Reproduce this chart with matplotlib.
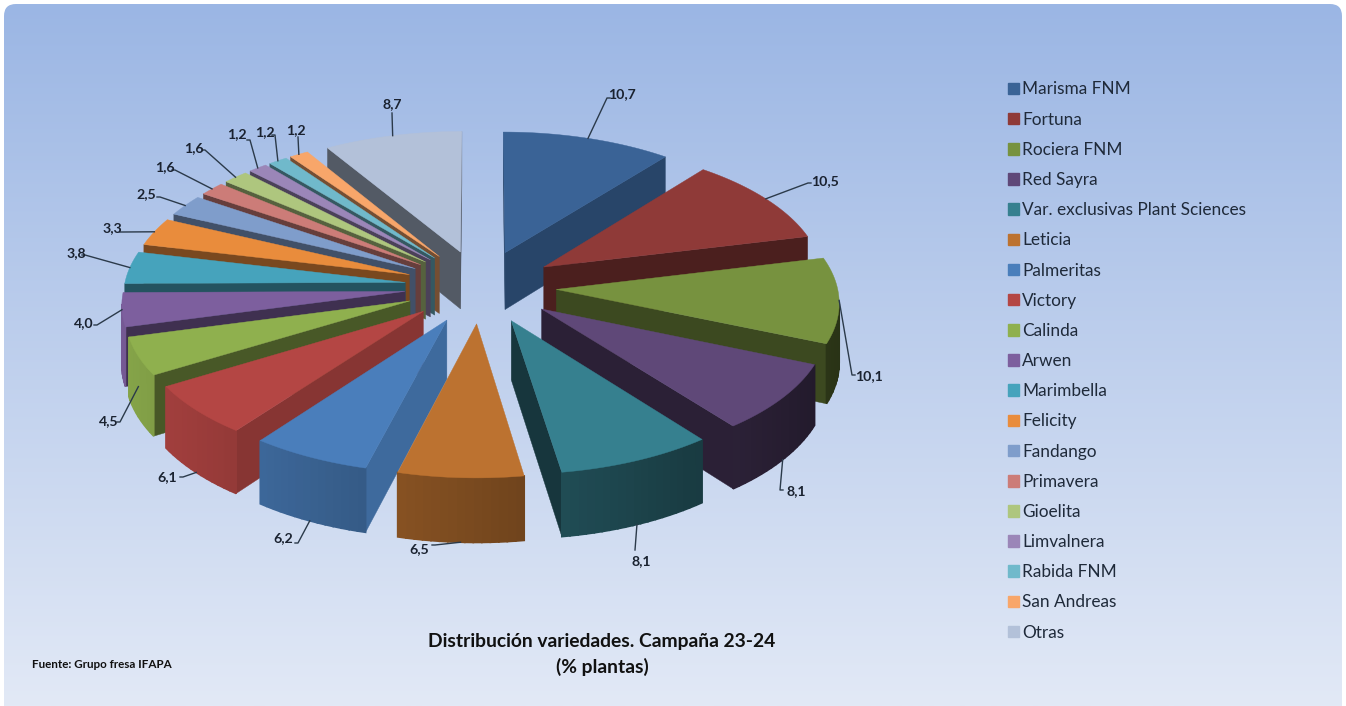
import numpy as np
import matplotlib
matplotlib.use("Agg")
import matplotlib.pyplot as plt
from matplotlib.patches import FancyBboxPatch, Patch
from matplotlib.colors import to_rgb

plt.rcParams['font.family'] = ['Lato', 'DejaVu Sans']

names = ["Marisma FNM", "Fortuna", "Rociera FNM", "Red Sayra", "Var. exclusivas Plant Sciences",
         "Leticia", "Palmeritas", "Victory", "Calinda", "Arwen", "Marimbella", "Felicity",
         "Fandango", "Primavera", "Gioelita", "Limvalnera", "Rabida FNM", "San Andreas", "Otras"]
values = [10.7, 10.5, 10.1, 8.1, 8.1, 6.5, 6.2, 6.1, 4.5, 4.0, 3.8, 3.3, 2.5, 1.6, 1.6, 1.2, 1.2, 1.2, 8.7]
colors = ["#3A6396", "#8F3A38", "#77923F", "#5F4878", "#36808F", "#BC7230",
          "#4A7EBB", "#B44644", "#8FB04E", "#7D5F9E", "#46A3BC", "#E98C3C",
          "#7F9DCB", "#CC7C78", "#AEC67E", "#9B86B8", "#70B9CB", "#F8A66A", "#B3C1D9"]

# label position, and where on the rim wall the leader starts (0 top, 1 bottom)
label_xy = [(622, 94), (825, 181), (869, 376), (796, 491), (641, 561), (419, 549), (283, 538),
            (167, 477), (109, 421), (84, 323), (76, 253), (112, 228), (146, 194), (165, 167),
            (194, 148), (237, 134), (265, 132), (296, 130), (392, 104)]
leader_elbow = [(607, 98), (808, 183), (852, 375), (780, 490), (635, 550), (435, 545), (298, 543),
                (183, 477), (120, 422), (97, 325), (85, 255), (123, 232), (160, 197), (175, 170),
                (205, 150), (250, 140), (275, 135), (298, 137), (392, 113)]
anchor_depth = [0, 0, 0, 1, 1, 1, 1, 1, 0.5, 0, 0, 0, 0, 0, 0, 0, 0, 0, 0]

cx, cy = 480.5, 286.5
R, k, persp, explode, depth = 281, 0.482, 0.08, 0.27, 58


def project(theta, r, mid, z):
    X = r * np.sin(theta) + explode * np.sin(mid)
    Y = r * np.cos(theta) + explode * np.cos(mid)
    s = 1 / (1 + persp * Y)
    return cx + R * X * s, cy - R * k * Y * s + z * depth * s


def shade(c, f):
    return tuple(np.array(to_rgb(c)) * f)


def wall_shade(t):
    return np.interp(np.degrees(t), [0, 38, 78, 114, 142, 171, 194, 217, 238, 290, 360],
                     [0.7, 0.7, 0.52, 0.5, 0.45, 0.42, 0.84, 0.75, 0.5, 0.52, 0.42])


fig = plt.figure(figsize=(13.46, 7.06), dpi=100, facecolor="white")
ax = fig.add_axes([0, 0, 1, 1])

top_col = np.array([155, 182, 228])
bot_col = np.array([226, 233, 246])
grad = np.linspace(0, 1, 256)[:, None, None] * (bot_col - top_col) + top_col
bg = ax.imshow(grad / 255, extent=(4, 1342, 706, 4), aspect="auto", zorder=0)
box = FancyBboxPatch((14, 14), 1318, 700, boxstyle="round,pad=10,rounding_size=12", fc="none", ec="none")
ax.add_patch(box)
bg.set_clip_path(box)
ax.set_xlim(0, 1346)
ax.set_ylim(706, 0)
ax.axis("off")

fracs = np.array(values) / sum(values)
ends = np.cumsum(fracs) * 2 * np.pi
starts = ends - fracs * 2 * np.pi
mids = (starts + ends) / 2

for i in np.argsort(-np.cos(mids)):
    a, b, m, c = starts[i], ends[i], mids[i], colors[i]
    th = np.linspace(a, b, max(int(np.degrees(b - a) / 1.5), 3) + 1)
    tip_t = project(0, 0, m, 0)
    tip_b = project(0, 0, m, 1)
    # cut walls, only those turned to the viewer
    for t, is_end in ((a, False), (b, True)):
        top = project(t, 1, m, 0)
        bot = project(t, 1, m, 1)
        if (top[0] > tip_t[0]) == is_end:
            ax.fill([tip_t[0], top[0], bot[0], tip_b[0]], [tip_t[1], top[1], bot[1], tip_b[1]],
                    color=shade(c, wall_shade(t)), lw=0.3, zorder=2)
    # outer wall in strips, lit from the left
    for t0, t1 in zip(th[:-1], th[1:]):
        p0, p1 = project(t0, 1, m, 0), project(t1, 1, m, 0)
        if p1[0] < p0[0]:
            q0, q1 = project(t0, 1, m, 1), project(t1, 1, m, 1)
            f = 0.64 - 0.3 * np.sin((t0 + t1) / 2)
            ax.fill([p0[0], p1[0], q1[0], q0[0]], [p0[1], p1[1], q1[1], q0[1]],
                    color=shade(c, f), lw=1.2, zorder=2)
    xs, ys = project(th, 1, m, 0)
    ax.fill(np.r_[tip_t[0], xs], np.r_[tip_t[1], ys], color=c, lw=0.3, zorder=2)

for i, v in enumerate(values):
    ax_xy = project(mids[i], 1, mids[i], anchor_depth[i])
    ex, ey = leader_elbow[i]
    lx, ly = label_xy[i]
    line_x, line_y = [ax_xy[0], ex], [ax_xy[1], ey]
    if abs(lx - ex) > 8:
        line_x.append(ex + np.sign(lx - ex) * 3)
        line_y.append(ey)
    ax.plot(line_x, line_y, color="#2b3a4a", lw=1.0, zorder=3)
    ax.text(lx, ly, f"{v:.1f}".replace(".", ","), ha="center", va="center", fontsize=10.2,
            fontweight="bold", color="#1a2230", zorder=4)

handles = [Patch(color=c, label=n) for c, n in zip(colors, names)]
ax.legend(handles=handles, loc="upper left", bbox_to_anchor=(992 / 1346, 1 - 66 / 706), frameon=False,
          fontsize=12.4, handlelength=0.66, handleheight=0.66, handletextpad=0.2, labelspacing=0.823,
          labelcolor="#1f2a3a", borderpad=0.4)

ax.text(602, 641, "Distribución variedades. Campaña 23-24", ha="center", va="center", fontsize=13.9,
        fontweight="bold", color="#111111", zorder=4)
ax.text(602, 667, "(% plantas)", ha="center", va="center", fontsize=13.9, fontweight="bold", color="#111111", zorder=4)
ax.text(32, 664, "Fuente: Grupo fresa IFAPA", ha="left", va="center", fontsize=8.4, fontweight="bold",
        color="#111111", zorder=4)

fig.savefig("out.png", dpi=100, facecolor="white")
